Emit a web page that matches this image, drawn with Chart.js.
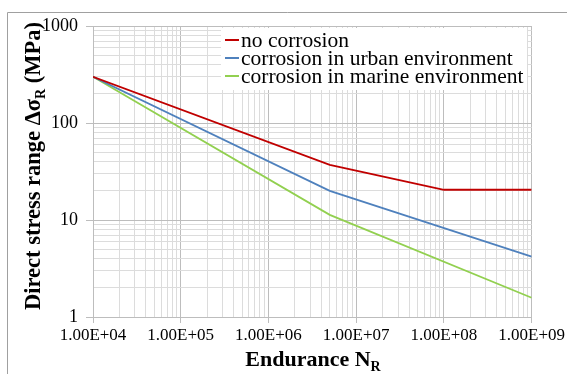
<!DOCTYPE html>
<html>
<head>
<meta charset="utf-8">
<script src="https://cdn.jsdelivr.net/npm/chart.js@4"></script>
<style>
  html, body { margin: 0; padding: 0; background: #fff; }
  #wrap { width: 567px; height: 374px; position: relative; }
</style>
</head>
<body>
<div id="wrap"><canvas id="myChart" width="567" height="374"></canvas></div>
<script>
// endurance values (cycles) and stress ranges (MPa)
const seriesNames = ["no corrosion", "corrosion in urban environment", "corrosion in marine environment"];
const nNoCorr = [1e4, 5e6, 1e8, 1e9];
const sNoCorr = [300, 37, 20.5, 20.5];
const nUrban = [1e4, 5e6, 1e9];
const sUrban = [300, 20, 4.2];
const nMarine = [1e4, 5e6, 1e9];
const sMarine = [300, 11.3, 1.58];
const xMajor = [1e4, 1e5, 1e6, 1e7, 1e8, 1e9];
const yMajor = [1, 10, 100, 1000];
const colors = ['#C00000', '#4F81BD', '#92D050'];

const SERIF = '"Liberation Serif", "Times New Roman", serif';

function pts(xs, ys) {
    return xs.map((x, i) => ({ x: x, y: ys[i] }));
}

// all 1..9 steps in each decade between the first and last major
function logTicks(majors) {
    let out = [];
    for (let i = 0; i < majors.length - 1; i++) {
        for (let k = 1; k <= 9; k++) out.push({ value: majors[i] * k });
    }
    out.push({ value: majors[majors.length - 1] });
    return out;
}

function isMajor(v) {
    const l = Math.log10(v);
    return Math.abs(l - Math.round(l)) < 1e-9;
}

function sci(v) {
    const e = Math.round(Math.log10(v));
    return '1.00E+' + (e < 10 ? '0' + e : e);
}

const gridColor = (ctx) => (ctx.tick && isMajor(ctx.tick.value)) ? '#bdbdbd' : '#dcdcdc';
const tickColor = (ctx) => (ctx.tick && isMajor(ctx.tick.value)) ? '#bdbdbd' : 'rgba(0,0,0,0)';

// frame, legend box and axis titles with subscripts
const decor = {
    id: 'decor',
    beforeDraw(chart) {
        const c = chart.ctx;
        c.save();
        c.strokeStyle = '#a0a0a0';
        c.lineWidth = 1;
        c.beginPath();
        c.moveTo(7.5, 374);
        c.lineTo(7.5, 12.5);
        c.lineTo(567, 12.5);
        c.stroke();
        c.restore();
    },
    afterDatasetsDraw(chart) {
        const c = chart.ctx;
        c.save();
        // legend
        c.fillStyle = '#fff';
        c.fillRect(221, 28, 306, 62);
        c.font = '21.5px ' + SERIF;
        c.textBaseline = 'middle';
        seriesNames.forEach((name, i) => {
            const y = 40 + i * 18;
            c.strokeStyle = colors[i];
            c.lineWidth = 2;
            c.beginPath();
            c.moveTo(225, y);
            c.lineTo(239, y);
            c.stroke();
            c.fillStyle = '#000';
            c.textAlign = 'left';
            c.fillText(name, 241, y + 1);
        });

        // x title
        c.fillStyle = '#000';
        c.textBaseline = 'alphabetic';
        c.font = 'bold 22px ' + SERIF;
        let main = 'Endurance N';
        let w = c.measureText(main).width;
        c.font = 'bold 14px ' + SERIF;
        let ws = c.measureText('R').width;
        let x0 = 313 - (w + ws) / 2;
        c.font = 'bold 22px ' + SERIF;
        c.textAlign = 'left';
        c.fillText(main, x0, 366);
        c.font = 'bold 14px ' + SERIF;
        c.fillText('R', x0 + w, 371);

        // y title
        c.translate(40, 166);
        c.rotate(-Math.PI / 2);
        const parts = [['Direct stress range \u0394\u03c3', 22.5, 0], ['R', 14, 5], [' (MPa)', 22.5, 0]];
        let total = 0;
        parts.forEach(p => { c.font = 'bold ' + p[1] + 'px ' + SERIF; total += c.measureText(p[0]).width; });
        let px = -total / 2;
        parts.forEach(p => {
            c.font = 'bold ' + p[1] + 'px ' + SERIF;
            c.fillText(p[0], px, p[2]);
            px += c.measureText(p[0]).width;
        });
        c.restore();
    }
};

const ctx = document.getElementById('myChart');
new Chart(ctx, {
    type: 'line',
    data: {
        datasets: [
            { label: seriesNames[0], data: pts(nNoCorr, sNoCorr), borderColor: colors[0] },
            { label: seriesNames[1], data: pts(nUrban, sUrban), borderColor: colors[1] },
            { label: seriesNames[2], data: pts(nMarine, sMarine), borderColor: colors[2] }
        ]
    },
    options: {
        responsive: false,
        animation: false,
        layout: { padding: { top: 26, right: 35, left: 0, bottom: 0 } },
        elements: {
            line: { borderWidth: 1.8, tension: 0, fill: false },
            point: { radius: 0 }
        },
        plugins: {
            legend: { display: false },
            tooltip: { enabled: false }
        },
        scales: {
            x: {
                type: 'logarithmic',
                min: xMajor[0],
                max: xMajor[xMajor.length - 1],
                afterBuildTicks: (s) => { s.ticks = logTicks(xMajor); },
                afterFit: (s) => { s.height = 57; },
                border: { color: '#bdbdbd' },
                grid: { color: gridColor, tickColor: tickColor, tickLength: 6, borderDash: [2, 2] },
                ticks: {
                    autoSkip: false,
                    maxRotation: 0,
                    padding: 2,
                    color: '#000',
                    font: { family: SERIF, size: 17 },
                    callback: (v) => isMajor(v) ? sci(v) : ''
                }
            },
            y: {
                type: 'logarithmic',
                min: yMajor[0],
                max: yMajor[yMajor.length - 1],
                afterBuildTicks: (s) => { s.ticks = logTicks(yMajor); },
                afterFit: (s) => { s.width = 93; },
                border: { color: '#bdbdbd' },
                grid: { color: gridColor, tickColor: tickColor, tickLength: 7, borderDash: [2, 2] },
                ticks: {
                    autoSkip: false,
                    padding: 8,
                    color: '#000',
                    font: { family: SERIF, size: 18 },
                    callback: (v) => isMajor(v) ? String(v) : ''
                }
            }
        }
    },
    plugins: [decor]
});
</script>
</body>
</html>
